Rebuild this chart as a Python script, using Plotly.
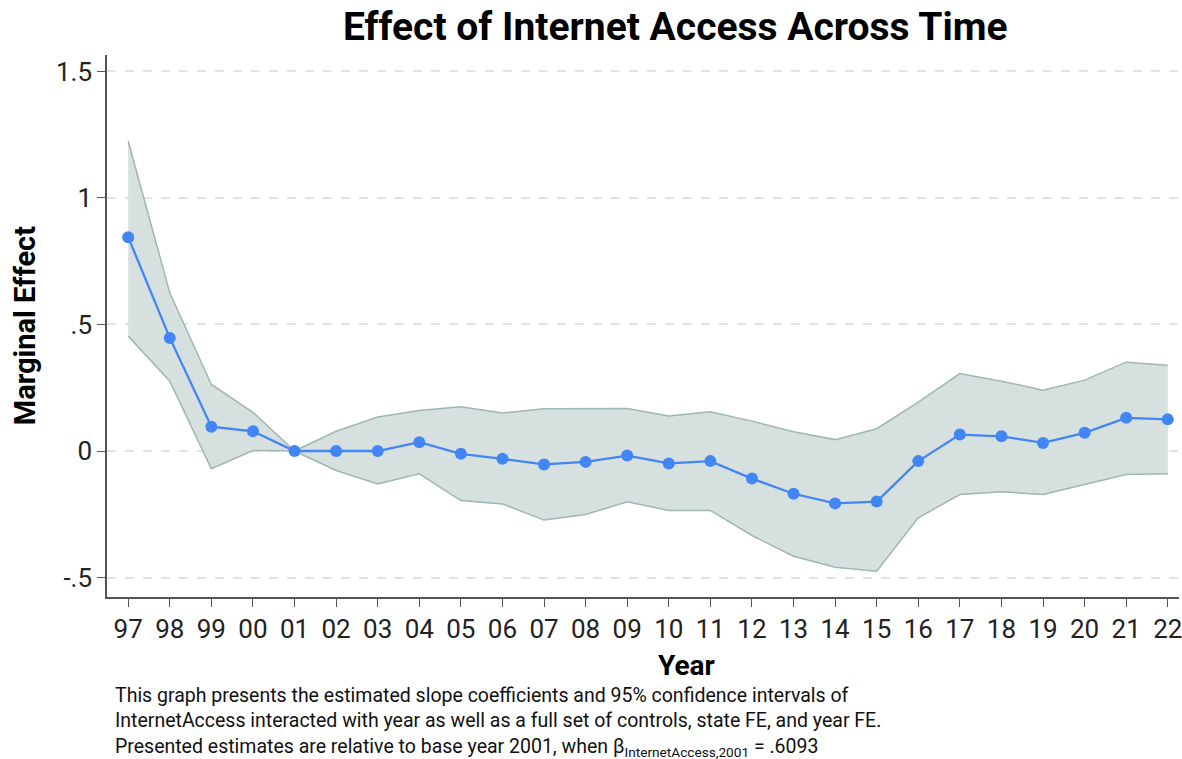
import plotly.graph_objects as go

years = ["97", "98", "99", "00", "01", "02", "03", "04", "05", "06", "07", "08", "09",
         "10", "11", "12", "13", "14", "15", "16", "17", "18", "19", "20", "21", "22"]
estimate = [0.845, 0.447, 0.096, 0.078, 0.0, 0.0, 0.0, 0.035, -0.011, -0.031, -0.053, -0.043, -0.018,
            -0.049, -0.040, -0.109, -0.169, -0.207, -0.200, -0.040, 0.065, 0.058, 0.032, 0.072, 0.131, 0.125]
ci_upper = [1.225, 0.625, 0.263, 0.153, 0.0, 0.078, 0.134, 0.160, 0.175, 0.150, 0.167, 0.167, 0.168,
            0.138, 0.155, 0.118, 0.076, 0.045, 0.088, 0.193, 0.306, 0.276, 0.240, 0.280, 0.351, 0.339]
ci_lower = [0.454, 0.276, -0.070, 0.002, 0.0, -0.077, -0.130, -0.090, -0.196, -0.209, -0.273, -0.251, -0.201,
            -0.235, -0.235, -0.334, -0.416, -0.459, -0.475, -0.264, -0.172, -0.161, -0.172, -0.132, -0.093, -0.090]
ytick_vals = [-0.5, 0, 0.5, 1, 1.5]
ytick_text = ["-.5", "0", ".5", "1", "1.5"]

FONT = "Roboto, Liberation Sans, sans-serif"
band_line = "rgb(160,182,176)"
band_fill = "rgba(214,224,222,1)"
blue = "rgb(66,133,244)"

fig = go.Figure()
fig.add_trace(go.Scatter(x=years, y=ci_upper, mode="lines",
                         line=dict(color=band_line, width=1.5), showlegend=False, hoverinfo="skip"))
fig.add_trace(go.Scatter(x=years, y=ci_lower, mode="lines", fill="tonexty", fillcolor=band_fill,
                         line=dict(color=band_line, width=1.5), showlegend=False, hoverinfo="skip"))
fig.add_trace(go.Scatter(x=years, y=estimate, mode="lines+markers",
                         line=dict(color=blue, width=2.3),
                         marker=dict(color=blue, size=12), showlegend=False))

fig.update_layout(
    width=1182, height=759,
    margin=dict(l=107, r=0, t=55, b=162),
    paper_bgcolor="white", plot_bgcolor="white",
    font=dict(family=FONT, color="#222222"),
    xaxis=dict(type="category", range=[-0.51, 25.27],
               showline=True, linecolor="#555555", linewidth=1.5,
               ticks="outside", ticklen=8, tickcolor="#555555", tickwidth=1.3,
               tickfont=dict(size=26, family=FONT, color="#222222"),
               showgrid=False, zeroline=False),
    yaxis=dict(range=[-0.577, 1.565], tickvals=ytick_vals, ticktext=ytick_text,
               showline=True, linecolor="#555555", linewidth=1.5,
               ticks="outside", ticklen=8, tickcolor="#555555", tickwidth=1.3,
               tickfont=dict(size=26, family=FONT, color="#222222"),
               showgrid=True, gridcolor="#e3e3e3", griddash="dash", gridwidth=1.5,
               zeroline=False),
)

anns = [
    dict(text="<b>Effect of Internet Access Across Time</b>", x=0.5302, y=1.0517,
         font=dict(size=39, family=FONT, color="black")),
    dict(text="<b>Marginal Effect</b>", x=-0.0763, y=0.5, textangle=-90,
         font=dict(size=29, family=FONT, color="black")),
    dict(text="<b>Year</b>", x=0.5405, y=-0.1255,
         font=dict(size=28, family=FONT, color="black")),
]
for a in anns:
    fig.add_annotation(xref="paper", yref="paper", showarrow=False, xanchor="center", yanchor="middle", **a)

caption = [
    "This graph presents the estimated slope coefficients and 95% confidence intervals of",
    "InternetAccess interacted with year as well as a full set of controls, state FE, and year FE.",
    "Presented estimates are relative to base year 2001, when β<sub>InternetAccess,2001</sub> = .6093",
]
fig.add_annotation(xref="paper", yref="paper", x=(113 - 107) / 1075, y=(597 - 722) / 542,
                   xanchor="left", yanchor="middle", align="left",
                   showarrow=False, text="<br>".join(caption),
                   font=dict(size=19.5, family=FONT, color="#111111"))

fig.write_html("out.html")
